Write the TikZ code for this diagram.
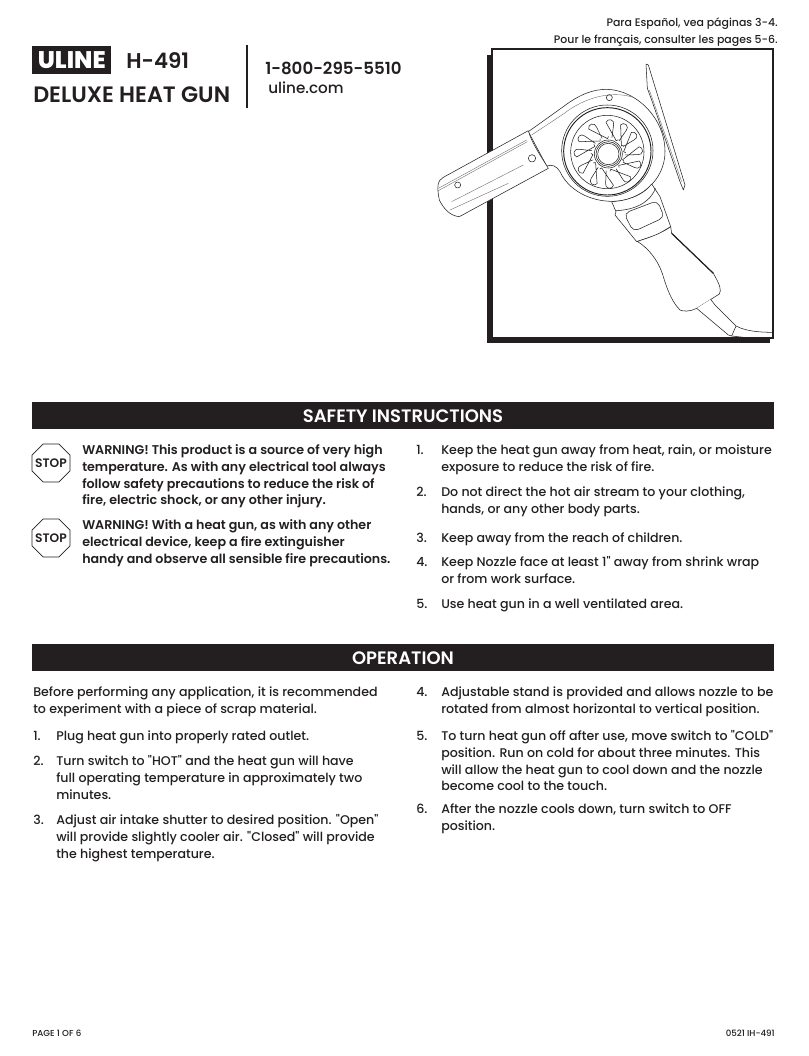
\documentclass[tikz,border=0pt]{standalone}
\usepackage{fontspec}
\setmainfont{Poppins}[UprightFont={* Medium},BoldFont={* SemiBold},Ligatures=TeXOff]
\newfontfamily\brandfont{Poppins ExtraBold}
\usetikzlibrary{shapes.geometric}
\definecolor{ink}{HTML}{231F20}
\newcommand{\stopword}{\raisebox{-3.1pt}[0pt][0pt]{\makebox[0pt]{STOP}}}
\tikzset{
  bodytext/.style={anchor=north west,inner sep=0pt,align=left,text=ink,font=\fontsize{9.45}{12.5}\selectfont},
  warntext/.style={bodytext,font=\fontsize{9.5}{12.5}\selectfont\bfseries},
  numtext/.style={bodytext},
  smalltext/.style={inner sep=0pt,text=ink,font=\fontsize{8.2}{9}\selectfont},
  foottext/.style={inner sep=0pt,text=ink,font=\fontsize{6.5}{9}\selectfont},
  headbar/.style={fill=ink,draw=none},
  headtext/.style={inner sep=0pt,text=white,font=\fontsize{13.5}{15}\selectfont\bfseries},
  stopsign/.style={regular polygon,regular polygon sides=8,draw=ink,line width=.6pt,minimum size=30.8pt,inner sep=0pt,text=ink,font=\fontsize{9.2}{10}\selectfont\bfseries},
  gunline/.style={draw=ink,line width=.4pt,line join=round},
  gunfill/.style={gunline,fill=white},
  gunthin/.style={draw=ink!65,line width=.3pt}
}
\begin{document}
\begin{tikzpicture}[x=.75pt,y=-.75pt]
  \useasboundingbox[fill=white] (0,0) rectangle (808,1056);
  % top corner
  \node[smalltext,anchor=east] (spanish) at (778,24) {Para Español, vea páginas 3-4.};
  \node[smalltext,anchor=east] (french) at (778,41) {Pour le français, consulter les pages 5-6.};
  % title block
  \node[fill=ink,text=white,minimum width=59.25pt,minimum height=21pt,inner sep=0pt,anchor=north west,font=\fontsize{18}{20}\brandfont] (brand) at (32,46) {ULINE};
  \node[inner sep=0pt,anchor=west,text=ink,font=\fontsize{16}{18}\selectfont\bfseries] (model) at (126,61) {H-491};
  \node[inner sep=0pt,anchor=west,text=ink,font=\fontsize{16.7}{18}\selectfont\bfseries] (product) at (33,95) {DELUXE HEAT GUN};
  \coordinate (ruletop) at (247,45);
  \coordinate (rulebot) at (247,108);
  \draw[ink,line width=.8pt] (ruletop) -- (rulebot);
  \node[inner sep=0pt,anchor=west,text=ink,font=\fontsize{12.5}{14}\selectfont\bfseries] (phone) at (265,68) {1-800-295-5510};
  \node[inner sep=0pt,anchor=west,text=ink,font=\fontsize{11.4}{14}\selectfont] (web) at (268,88) {uline.com};
  % picture frame
  \fill[ink] (487,55) rectangle (770,343);
  \draw[ink,fill=white,line width=.8pt] (492,49) rectangle (773,338);
  \begin{scope}[shift={(420,40)},x=.25pt,y=-.25pt]
    % stand
    \draw[gunfill] (678,72) -- (685,75) -- (795,435) -- (790,450) -- (780,425) -- (695,180) -- (682,145) -- cycle;
    \draw[gunthin] (688,150) -- (785,425);
    % body
    \draw[gunfill] (325,275) -- (430,200) .. controls (480,162) and (520,148) .. (560,148)
      .. controls (650,150) and (735,235) .. (735,335)
      .. controls (735,420) and (660,483) .. (580,484)
      .. controls (510,485) and (445,450) .. (420,395)
      .. controls (410,378) and (395,372) .. (380,378) -- cycle;
    \draw[gunthin] (335,285) -- (430,222) .. controls (490,175) and (570,150) .. (640,172);
    \draw[gunline] (568,173) circle (9);
    % grille rings
    \draw[gunline] (562,332) circle (137);
    \draw[gunline,line width=.7pt] (562,334) circle (131);
    \draw[gunline] (562,336) circle (110);
    \draw[gunline] (565,342) circle (42);
    \draw[gunline] (565,342) circle (37);
    \draw[gunline] (565,342) circle (32);
    \foreach \a in {106,72,45,21,-9,-35,-68,-103,-133,-165,163,135}
      \draw[gunline,shift={(565,342)},rotate=\a] (50,-5) -- (88,-12) arc (90:-90:12) -- (50,5) arc (-90:-270:5);
    % barrel
    \draw[gunfill] (325,272) -- (70,412) .. controls (52,422) and (50,440) .. (58,480)
      .. controls (70,505) and (90,528) .. (118,530) -- (385,385)
      .. controls (370,360) and (335,310) .. (325,272);
    \draw[gunthin] (55,445) -- (320,300);
    \draw[gunthin] (55,452) -- (322,305);
    \draw[gunthin] (95,485) -- (310,375);
    \draw[gunthin] (90,510) -- (265,430);
    \draw[gunline] (113,435) circle (9);
    \draw[gunline] (336,355) circle (11);
    % neck and switch
    \draw[gunfill] (575,485) -- (588,515) -- (585,525) -- (650,605) -- (710,585) -- (752,560)
      -- (720,470) -- (695,432) .. controls (670,465) and (625,482) .. (575,485);
    \draw[gunline] (588,512) .. controls (640,510) and (690,490) .. (706,445);
    \draw[gunline,rounded corners=4pt] (612,520) -- (712,482) -- (733,532) -- (640,575) -- cycle;
    % handle
    \draw[gunfill] (652,604) .. controls (685,625) and (715,660) .. (730,710)
      .. controls (745,760) and (760,790) .. (780,810) .. controls (790,815) and (810,815) .. (830,805)
      -- (898,762) .. controls (905,750) and (900,735) .. (880,700) -- (755,580) -- (752,560)
      .. controls (725,580) and (690,592) .. (652,604) -- cycle;
    \draw[ink,line width=.9pt] (755,580) -- (880,700);
    % cable
    \draw[gunfill] (830,805) -- (925,885) -- (935,888) -- (948,858) .. controls (925,835) and (900,810) .. (885,795) -- (872,778);
    \draw[gunline] (948,858) .. controls (975,872) and (1010,877) .. (1060,877);
    \draw[gunline] (935,888) -- (980,893);
  \end{scope}
  % safety section
  \fill[headbar] (32,402) rectangle (774,429);
  \node[headtext] (safetyhead) at (403,416) {SAFETY INSTRUCTIONS};
  \node[stopsign] (stopone) at (51,463) {\stopword};
  \node[stopsign] (stoptwo) at (51,538) {\stopword};
  \node[warntext] (warnone) at (82,443) {\strut WARNING! This product is a source of very high\\temperature. As with any electrical tool always\\follow safety precautions to reduce the risk of\\fire, electric shock, or any other injury.};
  \node[warntext] (warntwo) at (82,518) {\strut WARNING! With a heat gun, as with any other\\electrical device, keep a fire extinguisher\\handy and observe all sensible fire precautions.};
  \node[numtext] (sone) at (416,443) {\strut 1.};
  \node[bodytext] (sonetext) at (441,443) {\strut Keep the heat gun away from heat, rain, or moisture\\exposure to reduce the risk of fire.};
  \node[numtext] (stwo) at (416,485) {\strut 2.};
  \node[bodytext] (stwotext) at (441,485) {\strut Do not direct the hot air stream to your clothing,\\hands, or any other body parts.};
  \node[numtext] (sthree) at (416,531) {\strut 3.};
  \node[bodytext] (sthreetext) at (441,531) {\strut Keep away from the reach of children.};
  \node[numtext] (sfour) at (416,555) {\strut 4.};
  \node[bodytext] (sfourtext) at (441,555) {\strut Keep Nozzle face at least 1" away from shrink wrap\\or from work surface.};
  \node[numtext] (sfive) at (416,597) {\strut 5.};
  \node[bodytext] (sfivetext) at (441,597) {\strut Use heat gun in a well ventilated area.};
  % operation section
  \fill[headbar] (32,644) rectangle (774,671);
  \node[headtext] (ophead) at (403,658) {OPERATION};
  \node[bodytext] (opintro) at (33,685) {\strut Before performing any application, it is recommended\\to experiment with a piece of scrap material.};
  \node[numtext] (oone) at (33,729) {\strut 1.};
  \node[bodytext] (oonetext) at (56,729) {\strut Plug heat gun into properly rated outlet.};
  \node[numtext] (otwo) at (33,754) {\strut 2.};
  \node[bodytext] (otwotext) at (56,754) {\strut Turn switch to "HOT" and the heat gun will have\\full operating temperature in approximately two\\minutes.};
  \node[numtext] (othree) at (33,813) {\strut 3.};
  \node[bodytext] (othreetext) at (56,813) {\strut Adjust air intake shutter to desired position. "Open"\\will provide slightly cooler air. "Closed" will provide\\the highest temperature.};
  \node[numtext] (ofour) at (416,685) {\strut 4.};
  \node[bodytext] (ofourtext) at (441,685) {\strut Adjustable stand is provided and allows nozzle to be\\rotated from almost horizontal to vertical position.};
  \node[numtext] (ofive) at (416,729) {\strut 5.};
  \node[bodytext] (ofivetext) at (441,729) {\strut To turn heat gun off after use, move switch to "COLD"\\position. Run on cold for about three minutes. This\\will allow the heat gun to cool down and the nozzle\\become cool to the touch.};
  \node[numtext] (osix) at (416,802) {\strut 6.};
  \node[bodytext] (osixtext) at (441,802) {\strut After the nozzle cools down, turn switch to OFF\\position.};
  % footer
  \node[foottext,anchor=west] (pageno) at (32,1033) {PAGE 1 OF 6};
  \node[foottext,anchor=east] (partno) at (775,1033) {0521 IH-491};
\end{tikzpicture}
\end{document}
